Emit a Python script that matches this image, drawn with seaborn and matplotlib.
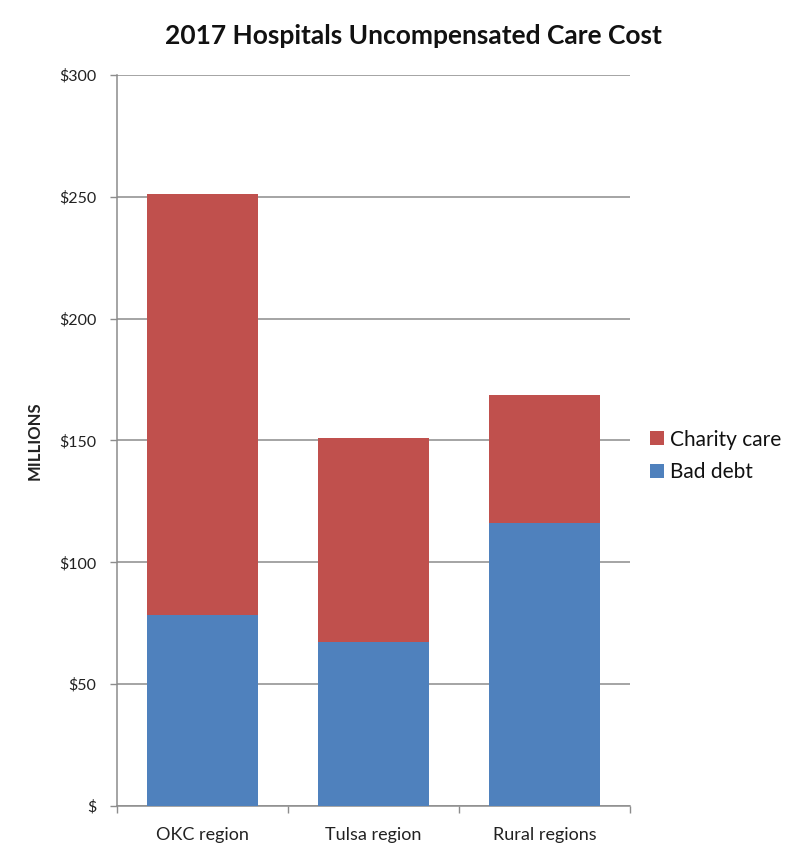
import matplotlib
matplotlib.use("Agg")
import matplotlib.pyplot as plt
import seaborn as sns
import pandas as pd
from matplotlib.patches import Patch
from matplotlib.ticker import FixedLocator

categories = ["OKC region", "Tulsa region", "Rural regions"]
bad_debt = [78.4, 67.2, 116.0]
charity_care = [172.7, 83.9, 52.6]
y_ticks = [0, 50, 100, 150, 200, 250, 300]
y_tick_labels = ["$", "$50", "$100", "$150", "$200", "$250", "$300"]

red = "#C0504D"
blue = "#4F81BD"

sns.set_theme(style="white")
plt.rcParams['font.family'] = ['Lato', 'DejaVu Sans']

df = pd.DataFrame({
    "region": categories,
    "bad": bad_debt,
    "total": [b + c for b, c in zip(bad_debt, charity_care)],
})

fig = plt.figure(figsize=(8.05, 8.52), dpi=100)
ax = fig.add_axes([117/805, 1 - 806/852, (630 - 117)/805, (806 - 75)/852])

sns.barplot(data=df, x="region", y="total", color=red, width=0.645,
            saturation=1, ax=ax, zorder=3, linewidth=0, edgecolor="none")
sns.barplot(data=df, x="region", y="bad", color=blue, width=0.645,
            saturation=1, ax=ax, zorder=4, linewidth=0, edgecolor="none")

ax.set_xlim(-0.5, 2.5)
ax.set_ylim(0, 300)
ax.set_yticks(y_ticks)
ax.set_yticklabels(y_tick_labels, fontsize=11.5, color="#222222")
ax.yaxis.grid(True, color="#8c8c8c", linewidth=1.1, zorder=0)
ax.set_axisbelow(True)
ax.tick_params(axis="y", which="major", length=5, width=1, color="#8c8c8c",
               left=True, pad=10)
ax.tick_params(axis="x", which="major", length=0, pad=15, labelsize=13,
               labelcolor="#222222")
ax.xaxis.set_minor_locator(FixedLocator([-0.5, 0.5, 1.5, 2.5]))
ax.tick_params(axis="x", which="minor", length=5, width=1, color="#8c8c8c",
               bottom=True)

for s in ["top", "right"]:
    ax.spines[s].set_visible(False)
for s in ["left", "bottom"]:
    ax.spines[s].set_color("#8c8c8c")
    ax.spines[s].set_linewidth(1.1)

ax.set_xlabel("")
ax.set_ylabel("")
fig.text(35/805, 1 - 441/852, "MILLIONS", rotation=90, ha="center",
         va="center", fontsize=12, fontweight="bold", color="#222222")

fig.suptitle("2017 Hospitals Uncompensated Care Cost", x=413/805,
             y=1 - 36/852, va="center", fontsize=19, fontweight="bold",
             color="#111111")

handles = [Patch(facecolor=red, edgecolor="none", label="Charity care"),
           Patch(facecolor=blue, edgecolor="none", label="Bad debt")]
fig.legend(handles=handles, loc="center left",
           bbox_to_anchor=(650/805, 1 - 456/852), frameon=False,
           fontsize=15, handlelength=0.65, handleheight=0.65,
           handletextpad=0.3, labelspacing=0.6, labelcolor="#111111",
           borderpad=0, borderaxespad=0)

fig.savefig("out.png", dpi=100)
